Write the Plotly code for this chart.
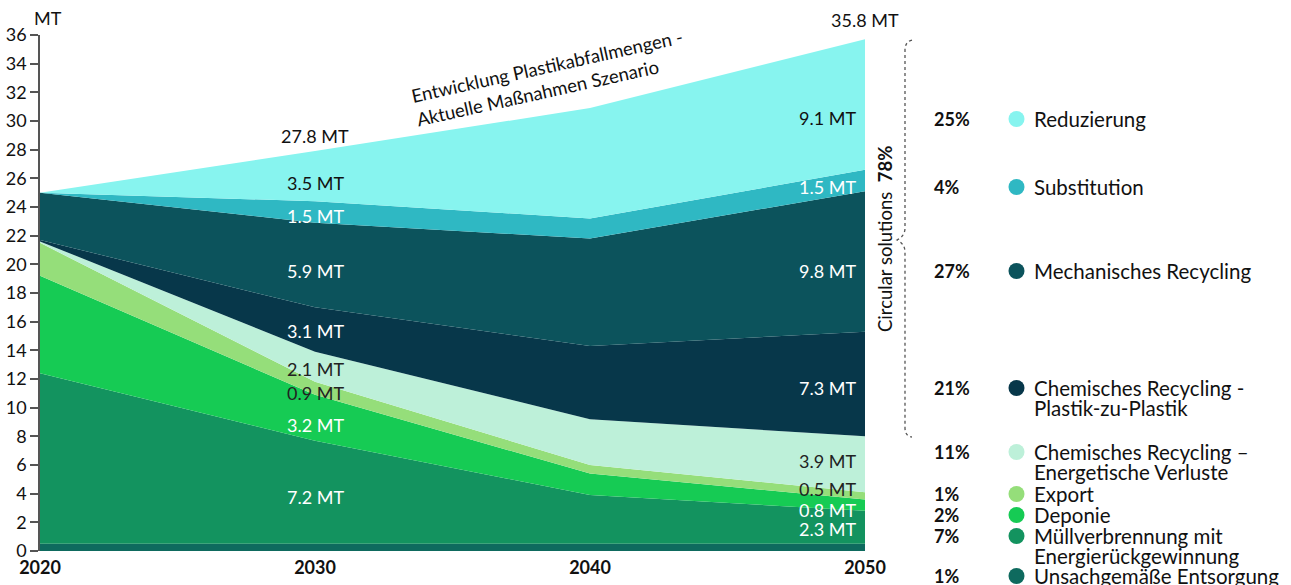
import plotly.graph_objects as go

# ---------------- data ----------------
years = [2020, 2030, 2040, 2050]
series_names = [
    "Unsachgemäße Entsorgung",
    "Müllverbrennung mit Energierückgewinnung",
    "Deponie",
    "Export",
    "Chemisches Recycling – Energetische Verluste",
    "Chemisches Recycling - Plastik-zu-Plastik",
    "Mechanisches Recycling",
    "Substitution",
    "Reduzierung",
]
unsachgemaess = [0.5, 0.5, 0.5, 0.5]
muellverbrennung = [11.9, 7.2, 3.4, 2.3]
deponie = [6.8, 3.2, 1.5, 0.8]
export = [2.3, 0.9, 0.6, 0.5]
chem_energie = [0.1, 2.1, 3.2, 3.9]
chem_p2p = [0.1, 3.1, 5.1, 7.3]
mechanisch = [3.3, 5.9, 7.5, 9.8]
substitution = [0.0, 1.5, 1.4, 1.5]
reduzierung = [0.0, 3.5, 7.7, 9.1]
totals_text = {2030: "27.8 MT", 2050: "35.8 MT"}

legend_pct = ["25%", "4%", "27%", "21%", "11%", "1%", "2%", "7%", "1%"]
legend_labels = [
    ["Reduzierung"],
    ["Substitution"],
    ["Mechanisches Recycling"],
    ["Chemisches Recycling -", "Plastik-zu-Plastik"],
    ["Chemisches Recycling –", "Energetische Verluste"],
    ["Export"],
    ["Deponie"],
    ["Müllverbrennung mit", "Energierückgewinnung"],
    ["Unsachgemäße Entsorgung"],
]
y_ticks = list(range(0, 37, 2))

# ---------------- style ----------------
values = [unsachgemaess, muellverbrennung, deponie, export, chem_energie,
          chem_p2p, mechanisch, substitution, reduzierung]
colors = ["#0E6A5E", "#13935F", "#16CB54", "#95DE7A", "#BDF0D9",
          "#07374A", "#0C535C", "#2FB8C3", "#87F4EF"]
label_colors = ["#ffffff", "#ffffff", "#ffffff", "#222222", "#222222",
                "#ffffff", "#ffffff", "#ffffff", "#111111"]
FONT = "Lato"
W, H = 1291, 585
# plot area in page pixels
PL, PR, PT, PB = 40, 865, 35, 551


def px(x):
    return (x - PL) / (PR - PL)


def py(y):
    return (PB - y) / (PB - PT)


fig = go.Figure()
for name, vals, col in zip(series_names, values, colors):
    fig.add_trace(go.Scatter(
        x=years, y=vals, name=name, stackgroup="one", mode="lines",
        line=dict(width=0, color=col), fillcolor=col, hoverinfo="x+y+name",
    ))

annotations = []
# in-band value labels at 2030 and 2050
shift_2030 = [None, -5, -7, -5, -2, -1.5, -6, -4, -7]
shift_2050 = [None, -2, -5, 6.6, 3, -4, -9.6, -6.5, -13.4]
for yi, yr in enumerate(years):
    if yr not in (2030, 2050):
        continue
    cum = 0.0
    for si, vals in enumerate(values):
        v = vals[yi]
        mid = cum + v / 2
        cum += v
        shifts = shift_2030 if yr == 2030 else shift_2050
        if shifts[si] is None:
            continue
        annotations.append(dict(
            x=yr, y=mid, xref="x", yref="y", text=f"{v:.1f} MT",
            showarrow=False, xanchor="center" if yr == 2030 else "right",
            xshift=0 if yr == 2030 else -7, yshift=shifts[si], yanchor="middle",
            font=dict(family=FONT, size=18, color=label_colors[si]),
        ))
    if yr in totals_text:
        annotations.append(dict(
            x=yr, y=cum, xref="x", yref="y", text=totals_text[yr],
            showarrow=False, xanchor="center", yanchor="middle",
            yshift=15 if yr == 2030 else 19.5,
            font=dict(family=FONT, size=18, color="#111111"),
        ))

# MT unit label
annotations.append(dict(x=px(32), y=py(18), xref="paper", yref="paper", text="MT",
                        showarrow=False, xanchor="left", yanchor="middle",
                        font=dict(family=FONT, size=18, color="#111111")))
# scenario annotation
annotations.append(dict(x=px(549), y=py(78), xref="paper", yref="paper",
                        text="Entwicklung Plastikabfallmengen -<br>Aktuelle Maßnahmen Szenario",
                        showarrow=False, textangle=-12.5, align="left",
                        xanchor="center", yanchor="middle",
                        font=dict(family=FONT, size=18.5, color="#111111")))
# circular solutions
annotations.append(dict(x=px(885), y=py(239), xref="paper", yref="paper",
                        text="Circular solutions  <b>78%</b>", showarrow=False,
                        textangle=-90, xanchor="center", yanchor="middle",
                        font=dict(family=FONT, size=18.5, color="#111111")))

# legend
legend_rows = [119, 187, 271, 388, 452, 494, 515, 536, 576]
legend_order = list(reversed(range(len(series_names))))
shapes = []
for row, si, pct, lines in zip(legend_rows, legend_order, legend_pct, legend_labels):
    annotations.append(dict(x=px(932), y=py(row), xref="paper", yref="paper",
                            text=f"<b>{pct}</b>", showarrow=False,
                            xanchor="left", yanchor="middle",
                            font=dict(family=FONT, size=18, color="#111111")))
    for li, line in enumerate(lines):
        annotations.append(dict(x=px(1032), y=py(row + li * 20), xref="paper", yref="paper",
                                text=line, showarrow=False,
                                xanchor="left", yanchor="middle",
                                font=dict(family=FONT, size=20.5, color="#111111")))
    shapes.append(dict(type="circle", xref="paper", yref="paper",
                       xsizemode="pixel", ysizemode="pixel",
                       xanchor=px(1016.5), yanchor=py(row),
                       x0=-8, x1=8, y0=-8, y1=8,
                       fillcolor=colors[si], line=dict(width=0)))

# dotted brace
pts = [("M", (912, 40)), ("Q", (905, 42), (905, 50)), ("L", (905, 228)),
       ("Q", (905, 236), (897, 240)), ("Q", (905, 244), (905, 252)),
       ("L", (905, 428)), ("Q", (905, 436), (912, 437))]
path = ""
for item in pts:
    cmd = item[0]
    coords = " ".join(f"{px(a):.5f},{py(b):.5f}" for a, b in item[1:])
    path += f"{cmd} {coords} "
shapes.append(dict(type="path", xref="paper", yref="paper", path=path.strip(),
                   line=dict(color="#555555", width=1.3, dash="dot")))

fig.update_layout(
    width=W, height=H,
    margin=dict(l=PL, r=W - PR, t=PT, b=H - PB, autoexpand=False),
    paper_bgcolor="white", plot_bgcolor="white",
    showlegend=False,
    annotations=annotations, shapes=shapes,
    font=dict(family=FONT, color="#111111"),
)
fig.update_xaxes(range=[2020, 2050], tickvals=years,
                 ticktext=[f"<b>{y}</b>" for y in years],
                 tickfont=dict(family=FONT, size=18, color="#111111"),
                 showgrid=False, zeroline=False, showline=False, ticks="",
                 ticklabelstandoff=4, fixedrange=True, automargin=False)
fig.update_yaxes(range=[0, 36], tickvals=y_ticks,
                 tickfont=dict(family=FONT, size=18, color="#111111"),
                 showgrid=False, zeroline=False, showline=True,
                 linecolor="#555555", linewidth=1.5,
                 ticks="outside", ticklen=8, tickwidth=1.5, tickcolor="#555555",
                 fixedrange=True, automargin=False)

fig.write_html("out.html",
               config={"displayModeBar": False},
               post_script="document.body.style.margin='0';document.body.style.overflow='hidden';")
